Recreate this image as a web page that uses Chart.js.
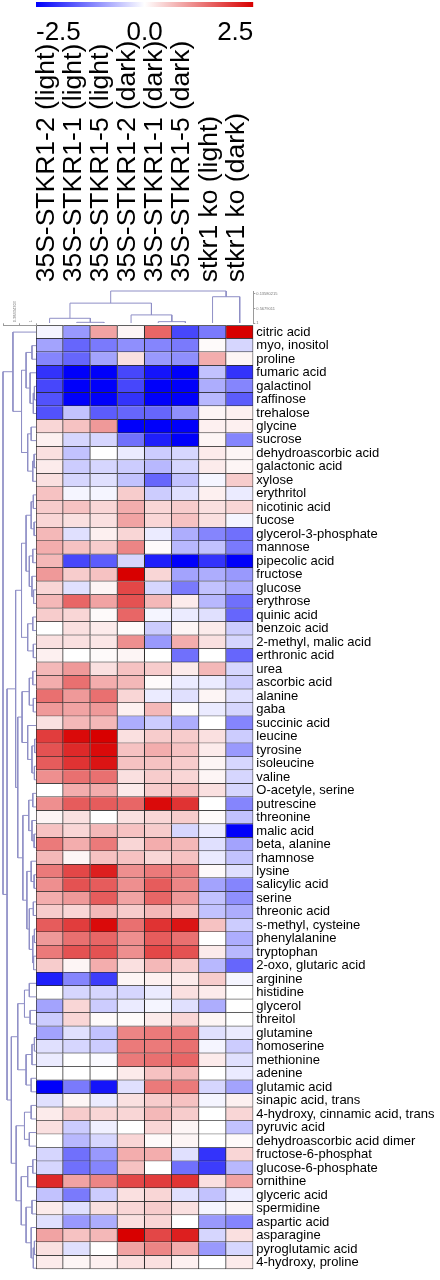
<!DOCTYPE html>
<html>
<head>
<meta charset="utf-8">
<script src="https://cdn.jsdelivr.net/npm/chart.js@4.4.0/dist/chart.umd.min.js"></script>
<style>
  body { margin: 0; background: #fff; }
  #wrap { position: relative; width: 440px; height: 1280px; }
  canvas { position: absolute; left: 0; top: 0; }
</style>
</head>
<body>
<div id="wrap">
  <canvas id="heat" width="440" height="1280"></canvas>
  <canvas id="colTree" width="440" height="330"></canvas>
  <canvas id="rowTree" width="40" height="1280"></canvas>
  <canvas id="legend" width="440" height="45"></canvas>
</div>
<script>
const rowLabels = [
  'citric acid', 'myo, inositol', 'proline', 'fumaric acid', 'galactinol', 'raffinose', 'trehalose',
  'glycine', 'sucrose', 'dehydroascorbic acid', 'galactonic acid', 'xylose', 'erythritol',
  'nicotinic acid', 'fucose', 'glycerol-3-phosphate', 'mannose', 'pipecolic acid', 'fructose',
  'glucose', 'erythrose', 'quinic acid', 'benzoic acid', '2-methyl, malic acid', 'erthronic acid',
  'urea', 'ascorbic acid', 'alanine', 'gaba', 'succinic acid', 'leucine', 'tyrosine', 'isoleucine',
  'valine', 'O-acetyle, serine', 'putrescine', 'threonine', 'malic acid', 'beta, alanine',
  'rhamnose', 'lysine', 'salicylic acid', 'serine', 'threonic acid', 's-methyl, cysteine',
  'phenylalanine', 'tryptophan', '2-oxo, glutaric acid', 'arginine', 'histidine', 'glycerol',
  'threitol', 'glutamine', 'homoserine', 'methionine', 'adenine', 'glutamic acid',
  'sinapic acid, trans', '4-hydroxy, cinnamic acid, trans', 'pyruvic acid',
  'dehydroascorbic acid dimer', 'fructose-6-phosphat', 'glucose-6-phosphate', 'ornithine',
  'glyceric acid', 'spermidine', 'aspartic acid', 'asparagine', 'pyroglutamic acid',
  '4-hydroxy, proline'
];

const colLabels = [
  '35S-STKR1-2 (light)', '35S-STKR1-1 (light)', '35S-STKR1-5 (light)',
  '35S-STKR1-2 (dark)', '35S-STKR1-1 (dark)', '35S-STKR1-5 (dark)',
  'stkr1 ko (light)', 'stkr1 ko (dark)'
];

// z-scores per sample (one value per metabolite, same order as rowLabels)
const oxLight2 = [-0.1,-0.9,-1.2,-2.0,-1.8,-1.7,-1.7,0.4,0.15,0.3, 0.2,0.3,0.6,0.5,0.4,0.7,0.8,0.7,1.0,0.4,
  0.7,0.5,0.0,0.3,0.15,0.7,0.8,1.4,1.0,0.3, 1.9,1.7,1.6,1.1,0.0,1.1,0.1,0.6,1.3,0.7,
  1.3,1.1,0.8,0.5,1.6,1.0,1.3,0.5,-2.2,0.0, -0.9,-0.5,-0.9,-0.3,-0.2,0.0,-2.5,-0.3,0.2,0.3,
  0.0,-0.4,-0.4,2.1,-0.6,0.2,-0.3,0.9,0.3,0.2];
const oxLight1 = [-1.0,-1.5,-1.5,-2.5,-2.5,-2.5,-0.6,0.6,-0.4,-0.6, -0.5,-0.4,-0.1,0.6,0.3,-0.3,0.6,-1.8,0.5,-0.3,
  1.5,0.4,0.3,0.3,0.0,1.0,1.4,1.0,0.9,0.7, 2.4,2.1,2.0,1.4,0.8,1.6,0.3,0.4,0.8,0.1,
  1.8,1.7,1.0,0.4,1.9,1.4,1.7,0.1,-1.2,-0.4, 0.4,0.4,-0.3,-0.4,0.0,0.0,-1.3,0.1,0.5,-0.5,
  -0.7,-1.4,-1.4,0.9,-1.3,-0.3,-1.0,0.6,-0.3,0.1];
const oxLight5 = [0.9,-1.3,-0.9,-2.5,-2.5,-2.5,-1.6,1.0,-0.4,0.0, -0.4,-0.3,-0.1,0.4,0.3,0.15,0.5,-1.6,0.6,0.1,
  0.9,0.05,0.2,0.25,0.05,0.3,0.8,1.4,1.0,0.7, 2.5,2.4,2.3,1.4,0.8,1.6,0.0,0.7,1.3,0.6,
  2.2,1.6,1.6,0.7,2.4,1.5,1.7,0.8,-1.9,-0.4, -0.5,0.05,-0.6,-0.5,-0.05,0.0,-2.3,-0.2,0.4,-0.15,
  -0.4,-1.0,-1.2,1.2,-0.5,0.3,-0.8,0.7,0.0,0.15];
const oxDark2 = [0.1,-1.1,0.3,-1.8,-1.8,-2.0,-1.5,-2.5,-1.4,-0.2, -0.5,-0.6,0.5,0.8,0.9,0.4,1.2,-0.4,2.5,1.8,
  1.7,1.5,0.05,1.1,0.1,0.6,0.7,0.4,0.15,-0.8, 0.3,0.6,0.6,0.3,0.2,1.5,0.3,0.6,0.4,0.6,
  1.1,1.1,0.9,0.5,1.4,1.1,1.1,0.3,0.1,-0.4, -0.2,0.05,1.2,1.3,1.3,0.2,-0.3,0.3,0.4,0.0,
  0.4,0.8,0.6,1.8,0.3,0.4,0.3,2.5,0.9,0.3];
const oxDark1 = [1.5,-1.2,-1.0,-2.3,-2.5,-2.5,-1.5,-2.5,-2.2,-0.5, -0.7,-1.5,-0.5,0.4,0.4,-0.2,0.05,-2.2,0.4,-0.4,
  0.7,-0.1,-0.5,-1.0,0.0,0.5,0.05,-0.2,0.7,-0.5, 0.5,0.8,0.6,0.5,0.5,2.4,0.4,0.5,0.8,0.4,
  1.3,1.6,1.5,0.7,2.0,1.6,1.8,0.7,0.15,-0.2, -0.1,0.2,1.3,1.3,1.4,0.6,1.3,0.5,0.7,0.4,
  0.05,0.8,0.0,1.9,0.4,0.5,0.4,1.8,1.2,0.3];
const oxDark5 = [-1.8,-1.3,-1.1,-2.5,-2.5,-2.5,-1.1,-2.5,-2.5,-0.4, -0.4,-0.6,-0.3,0.5,0.6,-0.8,-0.7,-2.5,-0.9,-1.3,
  0.2,-0.2,0.1,0.8,-1.4,0.2,-0.2,-0.3,0.05,-0.8, 0.5,0.6,0.5,0.4,0.6,2.0,0.5,-0.4,0.7,0.6,
  1.2,1.2,1.0,0.6,2.3,1.4,1.7,0.5,0.2,0.3, -0.3,0.4,1.3,1.4,1.5,0.7,1.3,0.6,0.5,0.1,
  0.1,-0.3,-1.4,2.0,-0.3,0.3,0.0,2.2,0.8,0.15];
const koLight = [-1.3,0.05,0.8,-0.6,-0.8,-0.7,0.1,0.15,0.1,0.2, 0.2,-0.1,0.15,0.3,0.3,-1.2,-0.6,-2.0,-0.8,-0.6,
  -0.7,-0.3,0.2,0.3,0.0,0.7,-0.2,0.1,-0.2,0.0, 0.3,0.2,0.1,0.1,0.3,0.0,0.05,-0.2,-0.3,-0.2,
  0.05,-0.9,-0.6,-0.6,0.6,0.0,0.2,-0.7,0.5,0.2, -0.8,0.1,-0.3,-0.1,0.2,0.0,-0.4,-0.1,0.0,0.0,
  0.0,-2.0,-1.9,0.3,-0.6,-0.1,-1.0,-0.4,-1.0,0.0];
const koDark = [2.5,-0.4,0.1,-2.0,-1.2,-1.6,0.15,0.15,-1.2,0.1, 0.1,0.5,-0.2,0.4,-0.1,-1.4,-1.3,-2.5,-1.0,-0.8,
  -1.4,-1.5,-0.5,-0.4,-1.5,-0.4,-0.5,-0.3,-0.4,-1.2, -0.5,-1.0,-0.4,-0.4,-0.4,-1.2,-0.6,-2.5,-0.9,-0.6,
  -0.3,-1.2,-1.1,-0.8,-0.5,-0.8,-0.7,-1.5,-0.1,0.0, 0.0,0.0,-0.2,-0.5,-0.3,-0.2,-0.9,0.15,0.4,-0.6,
  0.05,0.4,-0.7,0.9,-0.2,0.1,-1.2,0.3,-0.4,0.2];

const scaleMin = -2.5;
const scaleMax = 2.5;
const legendTicks = [-2.5, 0.0, 2.5];

// dendrograms: [similarity, left, right], leaves are row / column indexes
const colTree = [0.05, [0.41, [0.86, 0, [0.98, 1, 2]], [0.76, 3, [0.96, 4, 5]]], [0.22, 6, 7]];
const colTreeTicks = [0.13580215, 0.5679011, 1.0];

const rowTree = [-0.2313164,
  [0.14, 0, [0.46, [0.63, [0.85, 1, 2], [0.78, 3, [0.90, [0.94, 4, 5], 6]]],
                   [0.69, [0.82, 7, 8], [0.88, [0.93, 9, 10], 11]]]],
  [-0.08,
    [0.24,
      [0.46, [0.63, [0.82, [0.90, 12, 13], [0.93, 14, 15]], [0.75, [0.88, 16, 17], [0.85, 18, [0.91, 19, 20]]]],
             [0.69, [0.88, 21, 22], [0.90, 23, 24]]],
      [0.32,
        [0.48, [0.75, [0.88, 25, 26], [0.90, 27, 28]], [0.69, 29, [0.85, [0.95, 30, 31], [0.94, 32, 33]]]],
        [0.51, [0.73, [0.88, 34, 35], [0.85, 36, [0.93, 37, 38]]],
               [0.66, [0.82, 39, [0.93, 40, 41]], [0.75, [0.90, 42, 43], [0.88, [0.94, 44, 45], [0.91, 46, 47]]]]]]],
    [0.08,
      [0.32, [0.57, [0.75, 48, 49], [0.78, 50, 51]], [0.63, [0.85, [0.94, 52, 53], 54], [0.82, 55, 56]]],
      [0.26, [0.57, [0.82, 57, 58], [0.75, 59, 60]],
             [0.45, [0.69, [0.88, 61, 62], 63], [0.63, [0.85, 64, 65], [0.82, 66, [0.90, [0.94, 67, 68], 69]]]]]]]
];
const rowTreeTicks = [-0.2313164, 0.38434303, 1.0];

const series = [oxLight2, oxLight1, oxLight5, oxDark2, oxDark1, oxDark5, koLight, koDark];

Chart.defaults.font.family = '"Liberation Sans", Arial, sans-serif';
Chart.defaults.animation = false;
Chart.defaults.plugins.legend.display = false;
Chart.defaults.plugins.tooltip.enabled = false;

const BLUE = [0, 0, 250];
const RED = [216, 0, 0];

function colorFor(v) {
  const t = Math.min(Math.abs(v) / scaleMax, 1);
  const end = v < 0 ? BLUE : RED;
  const c = end.map(e => Math.round(255 + (e - 255) * t));
  return `rgb(${c[0]},${c[1]},${c[2]})`;
}

// walk a tree and collect its elbow lines
function treeLines(node, out) {
  if (typeof node === 'number') return { pos: node + 0.5, sim: 1.0 };
  const a = treeLines(node[1], out);
  const b = treeLines(node[2], out);
  out.push([[a.pos, a.sim], [a.pos, node[0]], [b.pos, node[0]], [b.pos, b.sim]]);
  return { pos: (a.pos + b.pos) / 2, sim: node[0] };
}

const treeColor = '#8f8fc6';
const axisGrey = '#9a9a9a';

// ---- heatmap ----
new Chart(document.getElementById('heat'), {
  type: 'bar',
  data: {
    labels: rowLabels,
    datasets: series.map((vals, c) => ({
      label: colLabels[c],
      data: vals.map(() => 1),
      backgroundColor: vals.map(colorFor),
      borderColor: '#2a2a2a',
      borderWidth: ctx => ({ top: ctx.dataIndex === 0 ? 1 : 0, left: c === 0 ? 1 : 0, right: 1, bottom: 1 }),
      borderSkipped: false,
      barPercentage: 1,
      categoryPercentage: 1
    }))
  },
  options: {
    indexAxis: 'y',
    responsive: false,
    layout: { padding: { left: 36, right: 0, top: 0, bottom: 5 } },
    scales: {
      x: {
        type: 'linear', position: 'top', stacked: true, min: 0, max: 8,
        afterBuildTicks: s => { s.ticks = colLabels.map((_, i) => ({ value: i + 0.5 })); },
        afterFit: s => { s.height = 325.3; s.paddingLeft = 0; s.paddingRight = 0; },
        grid: { display: false, drawTicks: false },
        border: { display: false },
        ticks: {
          autoSkip: false, minRotation: 90, maxRotation: 90, padding: 43, labelOffset: 28.5,
          color: '#000', font: { size: 26.5 },
          callback: (v, i) => colLabels[i]
        }
      },
      y: {
        type: 'category', position: 'right', stacked: true,
        afterFit: s => { s.width = 186.7; },
        grid: { display: false, drawTicks: false },
        border: { display: false },
        ticks: { autoSkip: false, padding: 3, color: '#000', font: { size: 13 } }
      }
    }
  }
});

// ---- column dendrogram ----
const colLines = [];
treeLines(colTree, colLines);
new Chart(document.getElementById('colTree'), {
  type: 'scatter',
  data: {
    datasets: colLines.map(l => ({
      data: l.map(p => ({ x: p[0], y: p[1] })),
      showLine: true, borderColor: treeColor, borderWidth: 1, pointRadius: 0, clip: false
    }))
  },
  options: {
    responsive: false,
    layout: { padding: { left: 36, top: 291, bottom: 7 } },
    scales: {
      x: { type: 'linear', min: 0, max: 8, display: false },
      y: {
        type: 'linear', position: 'right', reverse: true, min: 0.05, max: 1.0,
        afterBuildTicks: s => { s.ticks = colTreeTicks.map(v => ({ value: v })); },
        afterFit: s => { s.width = 186.7; },
        grid: { drawOnChartArea: false, tickLength: 2, color: axisGrey },
        border: { display: true, color: axisGrey },
        ticks: { padding: 1, color: '#777', font: { size: 4 }, callback: (v, i) => String(colTreeTicks[i]) }
      }
    }
  }
});

// ---- row dendrogram ----
const rowLines = [];
treeLines(rowTree, rowLines);
new Chart(document.getElementById('rowTree'), {
  type: 'scatter',
  data: {
    datasets: rowLines.map(l => ({
      data: l.map(p => ({ x: p[1], y: p[0] })),
      showLine: true, borderColor: treeColor, borderWidth: 1, pointRadius: 0, clip: false
    }))
  },
  options: {
    responsive: false,
    layout: { padding: { left: 3, right: 4, bottom: 5 } },
    scales: {
      x: {
        type: 'linear', position: 'top', min: rowTreeTicks[0], max: 1.0,
        afterBuildTicks: s => { s.ticks = rowTreeTicks.map(v => ({ value: v })); },
        afterFit: s => { s.height = 325.3; s.paddingLeft = 0; s.paddingRight = 0; },
        grid: { drawOnChartArea: false, tickLength: 2, color: axisGrey },
        border: { display: true, color: axisGrey },
        ticks: {
          autoSkip: false, minRotation: 90, maxRotation: 90, padding: 1,
          color: '#777', font: { size: 4 }, callback: (v, i) => String(rowTreeTicks[i])
        }
      },
      y: { type: 'linear', min: 0, max: rowLabels.length, reverse: true, display: false }
    }
  }
});

// ---- colour key ----
new Chart(document.getElementById('legend'), {
  type: 'bar',
  data: {
    labels: [''],
    datasets: [{
      data: [[scaleMin, scaleMax]],
      backgroundColor: ctx => {
        const area = ctx.chart.chartArea;
        if (!area) return null;
        const g = ctx.chart.ctx.createLinearGradient(area.left, 0, area.right, 0);
        g.addColorStop(0, colorFor(scaleMin));
        g.addColorStop(0.5, colorFor(0));
        g.addColorStop(1, colorFor(scaleMax));
        return g;
      },
      borderWidth: 0, barPercentage: 1, categoryPercentage: 1
    }]
  },
  options: {
    indexAxis: 'y',
    responsive: false,
    layout: { padding: { left: 36, right: 186.7, top: 2 } },
    scales: {
      x: {
        type: 'linear', min: scaleMin, max: scaleMax,
        afterBuildTicks: s => { s.ticks = legendTicks.map(v => ({ value: v })); },
        afterFit: s => { s.height = 38; },
        grid: { display: false, drawTicks: false },
        border: { display: false },
        ticks: { align: 'inner', padding: 10, color: '#000', font: { size: 26 }, callback: v => v.toFixed(1) }
      },
      y: { display: false }
    }
  }
});
</script>
</body>
</html>
